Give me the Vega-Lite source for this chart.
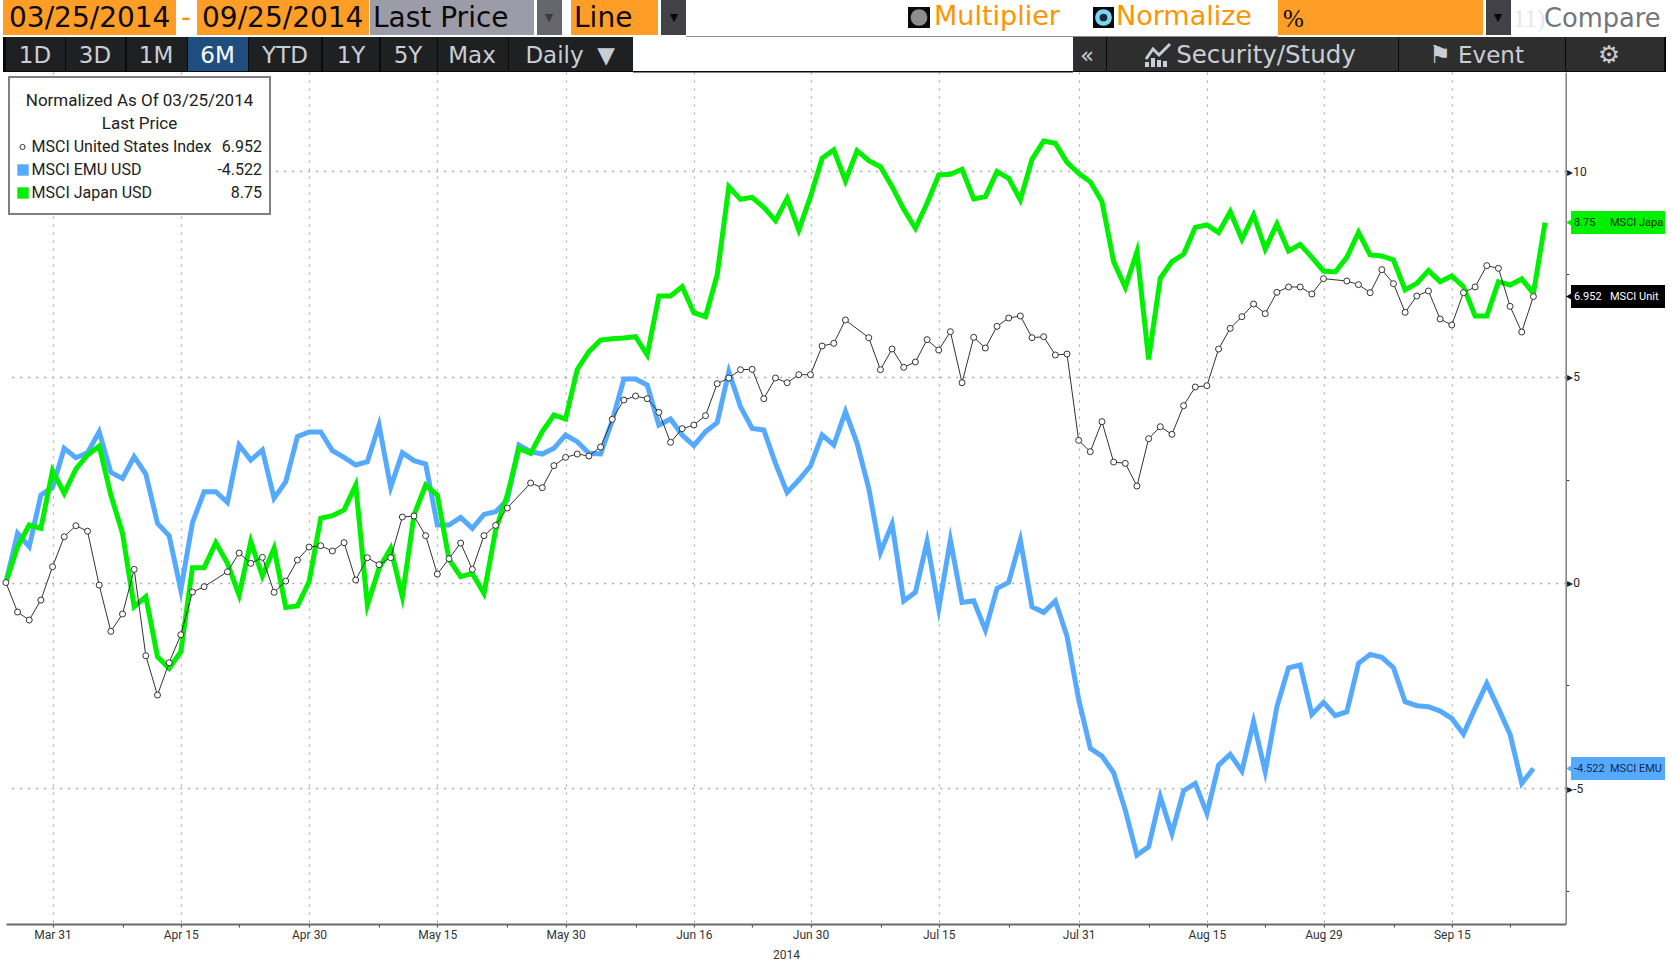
{
"$schema":"https://vega.github.io/schema/vega-lite/v6.json",
"width":1559.8,"height":852,
"autosize":{"type":"none"},
"padding":{"left":5.9,"top":72,"right":106.3,"bottom":39},
"background":"white",
"config":{"view":{"stroke":null}},
"datasets":{
"us":[{"date":"2014-03-25","pct":0},{"date":"2014-03-26","pct":-0.717},{"date":"2014-03-27","pct":-0.912},{"date":"2014-03-28","pct":-0.426},{"date":"2014-03-31","pct":0.385},{"date":"2014-04-01","pct":1.114},{"date":"2014-04-02","pct":1.382},{"date":"2014-04-03","pct":1.248},{"date":"2014-04-04","pct":-0.061},{"date":"2014-04-07","pct":-1.187},{"date":"2014-04-08","pct":-0.766},{"date":"2014-04-09","pct":0.32},{"date":"2014-04-10","pct":-1.779},{"date":"2014-04-11","pct":-2.735},{"date":"2014-04-14","pct":-1.949},{"date":"2014-04-15","pct":-1.268},{"date":"2014-04-16","pct":-0.231},{"date":"2014-04-17","pct":-0.101},{"date":"2014-04-21","pct":0.263},{"date":"2014-04-22","pct":0.717},{"date":"2014-04-23","pct":0.466},{"date":"2014-04-24","pct":0.612},{"date":"2014-04-25","pct":-0.239},{"date":"2014-04-28","pct":0.036},{"date":"2014-04-29","pct":0.547},{"date":"2014-04-30","pct":0.863},{"date":"2014-05-01","pct":0.895},{"date":"2014-05-02","pct":0.766},{"date":"2014-05-05","pct":0.969},{"date":"2014-05-06","pct":0.061},{"date":"2014-05-07","pct":0.604},{"date":"2014-05-08","pct":0.434},{"date":"2014-05-09","pct":0.604},{"date":"2014-05-12","pct":1.593},{"date":"2014-05-13","pct":1.617},{"date":"2014-05-14","pct":1.139},{"date":"2014-05-15","pct":0.207},{"date":"2014-05-16","pct":0.58},{"date":"2014-05-19","pct":0.96},{"date":"2014-05-20","pct":0.32},{"date":"2014-05-21","pct":1.139},{"date":"2014-05-22","pct":1.39},{"date":"2014-05-23","pct":1.811},{"date":"2014-05-27","pct":2.419},{"date":"2014-05-28","pct":2.306},{"date":"2014-05-29","pct":2.841},{"date":"2014-05-30","pct":3.043},{"date":"2014-06-02","pct":3.124},{"date":"2014-06-03","pct":3.075},{"date":"2014-06-04","pct":3.294},{"date":"2014-06-05","pct":3.967},{"date":"2014-06-06","pct":4.437},{"date":"2014-06-09","pct":4.534},{"date":"2014-06-10","pct":4.469},{"date":"2014-06-11","pct":4.137},{"date":"2014-06-12","pct":3.408},{"date":"2014-06-13","pct":3.74},{"date":"2014-06-16","pct":3.829},{"date":"2014-06-17","pct":4.056},{"date":"2014-06-18","pct":4.834},{"date":"2014-06-19","pct":4.971},{"date":"2014-06-20","pct":5.174},{"date":"2014-06-23","pct":5.182},{"date":"2014-06-24","pct":4.469},{"date":"2014-06-25","pct":4.971},{"date":"2014-06-26","pct":4.858},{"date":"2014-06-27","pct":5.053},{"date":"2014-06-30","pct":5.053},{"date":"2014-07-01","pct":5.749},{"date":"2014-07-02","pct":5.814},{"date":"2014-07-03","pct":6.382},{"date":"2014-07-07","pct":5.952},{"date":"2014-07-08","pct":5.174},{"date":"2014-07-09","pct":5.677},{"date":"2014-07-10","pct":5.231},{"date":"2014-07-11","pct":5.361},{"date":"2014-07-14","pct":5.904},{"date":"2014-07-15","pct":5.652},{"date":"2014-07-16","pct":6.098},{"date":"2014-07-17","pct":4.858},{"date":"2014-07-18","pct":5.96},{"date":"2014-07-21","pct":5.701},{"date":"2014-07-22","pct":6.228},{"date":"2014-07-23","pct":6.43},{"date":"2014-07-24","pct":6.479},{"date":"2014-07-25","pct":5.952},{"date":"2014-07-28","pct":5.976},{"date":"2014-07-29","pct":5.531},{"date":"2014-07-30","pct":5.555},{"date":"2014-07-31","pct":3.456},{"date":"2014-08-01","pct":3.181},{"date":"2014-08-04","pct":3.91},{"date":"2014-08-05","pct":2.929},{"date":"2014-08-06","pct":2.897},{"date":"2014-08-07","pct":2.346},{"date":"2014-08-08","pct":3.497},{"date":"2014-08-11","pct":3.788},{"date":"2014-08-12","pct":3.602},{"date":"2014-08-13","pct":4.299},{"date":"2014-08-14","pct":4.753},{"date":"2014-08-15","pct":4.785},{"date":"2014-08-18","pct":5.676},{"date":"2014-08-19","pct":6.179},{"date":"2014-08-20","pct":6.463},{"date":"2014-08-21","pct":6.771},{"date":"2014-08-22","pct":6.536},{"date":"2014-08-25","pct":7.054},{"date":"2014-08-26","pct":7.184},{"date":"2014-08-27","pct":7.184},{"date":"2014-08-28","pct":7.014},{"date":"2014-08-29","pct":7.387},{"date":"2014-09-02","pct":7.33},{"date":"2014-09-03","pct":7.241},{"date":"2014-09-04","pct":7.046},{"date":"2014-09-05","pct":7.605},{"date":"2014-09-08","pct":7.265},{"date":"2014-09-09","pct":6.568},{"date":"2014-09-10","pct":6.965},{"date":"2014-09-11","pct":7.087},{"date":"2014-09-12","pct":6.406},{"date":"2014-09-15","pct":6.26},{"date":"2014-09-16","pct":7.046},{"date":"2014-09-17","pct":7.184},{"date":"2014-09-18","pct":7.703},{"date":"2014-09-19","pct":7.638},{"date":"2014-09-22","pct":6.714},{"date":"2014-09-23","pct":6.09},{"date":"2014-09-24","pct":6.952}],
"emu":[{"date":"2014-03-25","pct":0},{"date":"2014-03-26","pct":1.195},{"date":"2014-03-27","pct":0.871},{"date":"2014-03-28","pct":2.127},{"date":"2014-03-31","pct":2.314},{"date":"2014-04-01","pct":3.262},{"date":"2014-04-02","pct":3.035},{"date":"2014-04-03","pct":3.156},{"date":"2014-04-04","pct":3.667},{"date":"2014-04-07","pct":2.678},{"date":"2014-04-08","pct":2.532},{"date":"2014-04-09","pct":3.059},{"date":"2014-04-10","pct":2.638},{"date":"2014-04-11","pct":1.438},{"date":"2014-04-14","pct":1.139},{"date":"2014-04-15","pct":-0.182},{"date":"2014-04-16","pct":1.455},{"date":"2014-04-17","pct":2.208},{"date":"2014-04-18","pct":2.208},{"date":"2014-04-21","pct":1.949},{"date":"2014-04-22","pct":3.343},{"date":"2014-04-23","pct":2.978},{"date":"2014-04-24","pct":3.221},{"date":"2014-04-25","pct":2.046},{"date":"2014-04-28","pct":2.451},{"date":"2014-04-29","pct":3.545},{"date":"2014-04-30","pct":3.659},{"date":"2014-05-01","pct":3.659},{"date":"2014-05-02","pct":3.205},{"date":"2014-05-05","pct":3.043},{"date":"2014-05-06","pct":2.857},{"date":"2014-05-07","pct":2.938},{"date":"2014-05-08","pct":3.829},{"date":"2014-05-09","pct":2.314},{"date":"2014-05-12","pct":3.156},{"date":"2014-05-13","pct":2.962},{"date":"2014-05-14","pct":2.881},{"date":"2014-05-15","pct":1.398},{"date":"2014-05-16","pct":1.398},{"date":"2014-05-19","pct":1.584},{"date":"2014-05-20","pct":1.317},{"date":"2014-05-21","pct":1.657},{"date":"2014-05-22","pct":1.722},{"date":"2014-05-23","pct":2.006},{"date":"2014-05-26","pct":3.343},{"date":"2014-05-27","pct":3.181},{"date":"2014-05-28","pct":3.124},{"date":"2014-05-29","pct":3.262},{"date":"2014-05-30","pct":3.586},{"date":"2014-06-02","pct":3.424},{"date":"2014-06-03","pct":3.14},{"date":"2014-06-04","pct":3.124},{"date":"2014-06-05","pct":3.934},{"date":"2014-06-06","pct":4.947},{"date":"2014-06-09","pct":4.947},{"date":"2014-06-10","pct":4.801},{"date":"2014-06-11","pct":3.829},{"date":"2014-06-12","pct":3.975},{"date":"2014-06-13","pct":3.586},{"date":"2014-06-16","pct":3.327},{"date":"2014-06-17","pct":3.667},{"date":"2014-06-18","pct":3.886},{"date":"2014-06-19","pct":5.126},{"date":"2014-06-20","pct":4.275},{"date":"2014-06-23","pct":3.748},{"date":"2014-06-24","pct":3.707},{"date":"2014-06-25","pct":2.897},{"date":"2014-06-26","pct":2.192},{"date":"2014-06-27","pct":2.492},{"date":"2014-06-30","pct":2.832},{"date":"2014-07-01","pct":3.586},{"date":"2014-07-02","pct":3.343},{"date":"2014-07-03","pct":4.153},{"date":"2014-07-04","pct":3.383},{"date":"2014-07-07","pct":2.289},{"date":"2014-07-08","pct":0.733},{"date":"2014-07-09","pct":1.422},{"date":"2014-07-10","pct":-0.45},{"date":"2014-07-11","pct":-0.239},{"date":"2014-07-14","pct":0.993},{"date":"2014-07-15","pct":-0.628},{"date":"2014-07-16","pct":1.033},{"date":"2014-07-17","pct":-0.482},{"date":"2014-07-18","pct":-0.442},{"date":"2014-07-21","pct":-1.155},{"date":"2014-07-22","pct":-0.142},{"date":"2014-07-23","pct":0.004},{"date":"2014-07-24","pct":1.033},{"date":"2014-07-25","pct":-0.588},{"date":"2014-07-28","pct":-0.725},{"date":"2014-07-29","pct":-0.45},{"date":"2014-07-30","pct":-1.3},{"date":"2014-07-31","pct":-2.84},{"date":"2014-08-01","pct":-4.032},{"date":"2014-08-04","pct":-4.218},{"date":"2014-08-05","pct":-4.623},{"date":"2014-08-06","pct":-5.531},{"date":"2014-08-07","pct":-6.625},{"date":"2014-08-08","pct":-6.422},{"date":"2014-08-11","pct":-5.207},{"date":"2014-08-12","pct":-6.098},{"date":"2014-08-13","pct":-5.061},{"date":"2014-08-14","pct":-4.882},{"date":"2014-08-15","pct":-5.612},{"date":"2014-08-18","pct":-4.437},{"date":"2014-08-19","pct":-4.177},{"date":"2014-08-20","pct":-4.583},{"date":"2014-08-21","pct":-3.383},{"date":"2014-08-22","pct":-4.599},{"date":"2014-08-25","pct":-3.019},{"date":"2014-08-26","pct":-2.071},{"date":"2014-08-27","pct":-2.006},{"date":"2014-08-28","pct":-3.205},{"date":"2014-08-29","pct":-2.913},{"date":"2014-09-01","pct":-3.237},{"date":"2014-09-02","pct":-3.14},{"date":"2014-09-03","pct":-1.965},{"date":"2014-09-04","pct":-1.746},{"date":"2014-09-05","pct":-1.819},{"date":"2014-09-08","pct":-2.071},{"date":"2014-09-09","pct":-2.897},{"date":"2014-09-10","pct":-2.994},{"date":"2014-09-11","pct":-3.019},{"date":"2014-09-12","pct":-3.124},{"date":"2014-09-15","pct":-3.302},{"date":"2014-09-16","pct":-3.683},{"date":"2014-09-17","pct":-3.059},{"date":"2014-09-18","pct":-2.451},{"date":"2014-09-19","pct":-3.059},{"date":"2014-09-22","pct":-3.691},{"date":"2014-09-23","pct":-4.882},{"date":"2014-09-24","pct":-4.522}],
"japan":[{"date":"2014-03-25","pct":0},{"date":"2014-03-26","pct":0.871},{"date":"2014-03-27","pct":1.398},{"date":"2014-03-28","pct":1.317},{"date":"2014-03-31","pct":2.719},{"date":"2014-04-01","pct":2.168},{"date":"2014-04-02","pct":2.759},{"date":"2014-04-03","pct":3.1},{"date":"2014-04-04","pct":3.319},{"date":"2014-04-07","pct":2.127},{"date":"2014-04-08","pct":1.195},{"date":"2014-04-09","pct":-0.588},{"date":"2014-04-10","pct":-0.344},{"date":"2014-04-11","pct":-1.803},{"date":"2014-04-14","pct":-2.087},{"date":"2014-04-15","pct":-1.682},{"date":"2014-04-16","pct":0.361},{"date":"2014-04-17","pct":0.361},{"date":"2014-04-18","pct":0.968},{"date":"2014-04-21","pct":0.466},{"date":"2014-04-22","pct":-0.304},{"date":"2014-04-23","pct":0.993},{"date":"2014-04-24","pct":0.158},{"date":"2014-04-25","pct":0.831},{"date":"2014-04-28","pct":-0.604},{"date":"2014-04-29","pct":-0.571},{"date":"2014-04-30","pct":0.02},{"date":"2014-05-01","pct":1.56},{"date":"2014-05-02","pct":1.625},{"date":"2014-05-05","pct":1.763},{"date":"2014-05-06","pct":2.37},{"date":"2014-05-07","pct":-0.547},{"date":"2014-05-08","pct":0.344},{"date":"2014-05-09","pct":0.831},{"date":"2014-05-12","pct":-0.344},{"date":"2014-05-13","pct":1.641},{"date":"2014-05-14","pct":2.37},{"date":"2014-05-15","pct":2.127},{"date":"2014-05-16","pct":0.563},{"date":"2014-05-19","pct":0.142},{"date":"2014-05-20","pct":0.223},{"date":"2014-05-21","pct":-0.263},{"date":"2014-05-22","pct":1.276},{"date":"2014-05-23","pct":2.127},{"date":"2014-05-26","pct":3.262},{"date":"2014-05-27","pct":3.14},{"date":"2014-05-28","pct":3.667},{"date":"2014-05-29","pct":4.072},{"date":"2014-05-30","pct":3.975},{"date":"2014-06-02","pct":5.18},{"date":"2014-06-03","pct":5.612},{"date":"2014-06-04","pct":5.895},{"date":"2014-06-05","pct":5.928},{"date":"2014-06-06","pct":5.944},{"date":"2014-06-09","pct":5.976},{"date":"2014-06-10","pct":5.531},{"date":"2014-06-11","pct":6.965},{"date":"2014-06-12","pct":6.965},{"date":"2014-06-13","pct":7.192},{"date":"2014-06-16","pct":6.56},{"date":"2014-06-17","pct":6.463},{"date":"2014-06-18","pct":7.476},{"date":"2014-06-19","pct":9.623},{"date":"2014-06-20","pct":9.315},{"date":"2014-06-23","pct":9.364},{"date":"2014-06-24","pct":9.121},{"date":"2014-06-25","pct":8.797},{"date":"2014-06-26","pct":9.34},{"date":"2014-06-27","pct":8.57},{"date":"2014-06-30","pct":9.38},{"date":"2014-07-01","pct":10.312},{"date":"2014-07-02","pct":10.515},{"date":"2014-07-03","pct":9.761},{"date":"2014-07-04","pct":10.498},{"date":"2014-07-07","pct":10.255},{"date":"2014-07-08","pct":10.109},{"date":"2014-07-09","pct":9.623},{"date":"2014-07-10","pct":9.072},{"date":"2014-07-11","pct":8.61},{"date":"2014-07-14","pct":9.218},{"date":"2014-07-15","pct":9.907},{"date":"2014-07-16","pct":9.923},{"date":"2014-07-17","pct":10.045},{"date":"2014-07-18","pct":9.323},{"date":"2014-07-21","pct":9.38},{"date":"2014-07-22","pct":9.988},{"date":"2014-07-23","pct":9.826},{"date":"2014-07-24","pct":9.299},{"date":"2014-07-25","pct":10.288},{"date":"2014-07-28","pct":10.733},{"date":"2014-07-29","pct":10.677},{"date":"2014-07-30","pct":10.215},{"date":"2014-07-31","pct":9.948},{"date":"2014-08-01","pct":9.74},{"date":"2014-08-04","pct":9.26},{"date":"2014-08-05","pct":7.8},{"date":"2014-08-06","pct":7.176},{"date":"2014-08-07","pct":8.043},{"date":"2014-08-08","pct":5.425},{"date":"2014-08-11","pct":7.395},{"date":"2014-08-12","pct":7.8},{"date":"2014-08-13","pct":7.978},{"date":"2014-08-14","pct":8.634},{"date":"2014-08-15","pct":8.691},{"date":"2014-08-18","pct":8.505},{"date":"2014-08-19","pct":9.015},{"date":"2014-08-20","pct":8.343},{"date":"2014-08-21","pct":8.934},{"date":"2014-08-22","pct":8.107},{"date":"2014-08-25","pct":8.715},{"date":"2014-08-26","pct":8.059},{"date":"2014-08-27","pct":8.221},{"date":"2014-08-28","pct":7.905},{"date":"2014-08-29","pct":7.573},{"date":"2014-09-01","pct":7.549},{"date":"2014-09-02","pct":7.905},{"date":"2014-09-03","pct":8.513},{"date":"2014-09-04","pct":7.962},{"date":"2014-09-05","pct":7.938},{"date":"2014-09-08","pct":7.84},{"date":"2014-09-09","pct":7.111},{"date":"2014-09-10","pct":7.273},{"date":"2014-09-11","pct":7.581},{"date":"2014-09-12","pct":7.313},{"date":"2014-09-15","pct":7.451},{"date":"2014-09-16","pct":7.192},{"date":"2014-09-17","pct":6.479},{"date":"2014-09-18","pct":6.479},{"date":"2014-09-19","pct":7.313},{"date":"2014-09-22","pct":7.232},{"date":"2014-09-23","pct":7.378},{"date":"2014-09-24","pct":7.03},{"date":"2014-09-25","pct":8.75}],
"latest":[{"series":"MSCI United States Index","tag":"MSCI Unit","last":6.952,"shown":"6.952"},{"series":"MSCI EMU USD","tag":"MSCI EMU","last":-4.522,"shown":"-4.522"},{"series":"MSCI Japan USD","tag":"MSCI Japa","last":8.75,"shown":"8.75\u00a0\u00a0"}],
"panels":[
{"from":3,"to":176,"top":0,"bottom":35,"kind":"input"},{"from":197,"to":369,"top":0,"bottom":35,"kind":"input"},{"from":370,"to":534,"top":0,"bottom":35,"kind":"field"},{"from":537,"to":562,"top":0,"bottom":35,"kind":"dim"},{"from":571,"to":658,"top":0,"bottom":35,"kind":"input"},{"from":661,"to":686,"top":0,"bottom":35,"kind":"dark"},{"from":1278,"to":1483,"top":0,"bottom":35,"kind":"input"},{"from":1486,"to":1511,"top":0,"bottom":35,"kind":"dark"},
{"from":686,"to":1278,"top":36,"bottom":37,"kind":"line"},{"from":633,"to":1073,"top":71,"bottom":72.5,"kind":"ink"},
{"from":3,"to":633,"top":37,"bottom":72,"kind":"ink"},{"from":6,"to":65,"top":37,"bottom":71,"kind":"tab"},{"from":66,"to":125,"top":37,"bottom":71,"kind":"tab"},{"from":127,"to":187,"top":37,"bottom":71,"kind":"tab"},{"from":188,"to":248,"top":37,"bottom":71,"kind":"active"},{"from":249,"to":321,"top":37,"bottom":71,"kind":"tab"},{"from":323,"to":379,"top":37,"bottom":71,"kind":"tab"},{"from":381,"to":437,"top":37,"bottom":71,"kind":"tab"},{"from":438,"to":508,"top":37,"bottom":71,"kind":"tab"},{"from":509,"to":633,"top":37,"bottom":71,"kind":"tab"},
{"from":1073,"to":1666,"top":37,"bottom":72,"kind":"ink"},{"from":1073,"to":1106,"top":37,"bottom":71,"kind":"panel"},{"from":1107,"to":1398,"top":37,"bottom":71,"kind":"panel"},{"from":1399,"to":1565,"top":37,"bottom":71,"kind":"panel"},{"from":1566,"to":1664,"top":37,"bottom":71,"kind":"panel"},
{"from":908,"to":930,"top":7,"bottom":28,"kind":"ink"},{"from":1093,"to":1114,"top":7,"bottom":28,"kind":"ink"},
{"from":1145,"to":1149,"top":62,"bottom":67,"kind":"glyph"},{"from":1151,"to":1155,"top":58,"bottom":67,"kind":"glyph"},{"from":1157,"to":1161,"top":60,"bottom":67,"kind":"glyph"},{"from":1163,"to":1167,"top":61,"bottom":67,"kind":"glyph"},
{"from":8,"to":271,"top":76,"bottom":215,"kind":"frame"},{"from":10,"to":269,"top":78,"bottom":213,"kind":"paper"}],
"knobs":[{"across":919,"down":17.5,"kind":"knobGray"},{"across":1103.5,"down":17.5,"kind":"knobCyan"}],
"topText":[{"label":"03/25/2014","at":9,"kind":"ink"},{"label":"-","at":181,"kind":"orange"},{"label":"09/25/2014","at":202,"kind":"ink"},{"label":"Last Price","at":373,"kind":"ink"},{"label":"Line","at":574,"kind":"ink"}],
"orangeText":[{"label":"Multiplier","at":934,"kind":"orange"},{"label":"Normalize","at":1116,"kind":"orange"}],
"compareText":[{"label":"Compare","at":1544,"kind":"soft"}],
"serifText":[{"label":"%","at":1283,"kind":"ink"},{"label":"11)","at":1513,"kind":"faint"}],
"carets":[{"label":"▼","at":549,"kind":"dimGlyph"},{"label":"▼","at":674,"kind":"ink"},{"label":"▼","at":1498,"kind":"ink"}],
"tabText":[{"label":"1D","at":35,"kind":"glyph"},{"label":"3D","at":95,"kind":"glyph"},{"label":"1M","at":156,"kind":"glyph"},{"label":"6M","at":217.5,"kind":"paper"},{"label":"YTD","at":285,"kind":"glyph"},{"label":"1Y","at":351,"kind":"glyph"},{"label":"5Y","at":408,"kind":"glyph"},{"label":"Max","at":472,"kind":"glyph"},{"label":"Daily","at":554.5,"kind":"glyph"},{"label":"▼","at":606,"kind":"glyph"},{"label":"«","at":1087,"kind":"glyph"},{"label":"Event","at":1491,"kind":"glyph"}],
"studyText":[{"label":"Security/Study","at":1266,"kind":"glyph"},{"label":"⚑","at":1440,"kind":"glyph"},{"label":"⚙","at":1609,"kind":"glyph"}],
"heading":[{"label":"Normalized As Of 03/25/2014","down":101},{"label":"Last Price","down":124}],
"iconTrace":[{"across":1146,"down":59},{"across":1153,"down":49},{"across":1159,"down":55},{"across":1170,"down":44}]
},
"layer":[
{"encoding":{
"x":{"field":"date","type":"ordinal","title":"2014","scale":{"type":"point","padding":0.885,"align":0},
"axis":{"orient":"bottom","values":["2014-03-31","2014-04-08","2014-04-15","2014-04-22","2014-04-30","2014-05-08","2014-05-15","2014-05-23","2014-05-30","2014-06-09","2014-06-16","2014-06-23","2014-06-30","2014-07-08","2014-07-15","2014-07-23","2014-07-31","2014-08-08","2014-08-15","2014-08-22","2014-08-29","2014-09-08","2014-09-15","2014-09-22"],
"labelExpr":"{'2014-03-31':'Mar 31','2014-04-15':'Apr 15','2014-04-30':'Apr 30','2014-05-15':'May 15','2014-05-30':'May 30','2014-06-16':'Jun 16','2014-06-30':'Jun 30','2014-07-15':'Jul 15','2014-07-31':'Jul 31','2014-08-15':'Aug 15','2014-08-29':'Aug 29','2014-09-15':'Sep 15'}[datum.value]||''",
"grid":true,"gridColor":"#9a9a9a","gridDash":[2,6],"gridWidth":1,
"gridOpacity":{"condition":{"test":"indexof(['2014-03-31','2014-04-15','2014-04-30','2014-05-15','2014-05-30','2014-06-16','2014-06-30','2014-07-15','2014-07-31','2014-08-15','2014-08-29','2014-09-15'],datum.value)>=0","value":1},"value":0},
"domainColor":"#6a6a6a","domainWidth":2,"tickColor":"#333","tickSize":3,"labelAngle":0,"labelOverlap":false,"labelFont":"Roboto","labelFontSize":12,"labelColor":"#333","labelPadding":2,
"titleFont":"Roboto","titleFontSize":12,"titleFontWeight":"normal","titleColor":"#333","titleX":780,"titleY":30,"titleBaseline":"middle"}},
"y":{"field":"pct","type":"quantitative","title":null,"scale":{"domain":[-8.3,12.41],"nice":false,"zero":false},
"axis":{"orient":"right","values":[-7.5,-5,-2.5,0,2.5,5,7.5,10],
"labelExpr":"datum.value%5==0?'▸'+datum.value:''",
"grid":true,"gridColor":"#aaaaaa","gridDash":[2,6],"gridWidth":1.5,
"gridOpacity":{"condition":{"test":"datum.value%5==0","value":1},"value":0},
"domainColor":"#808080","domainWidth":1.5,"tickColor":"#333","tickSize":3,"labelFont":"Roboto","labelFontSize":12,"labelColor":"#222","labelPadding":-2}}},
"layer":[
{"data":{"name":"emu"},"mark":{"type":"line","stroke":"#55AAFF","strokeWidth":5,"strokeJoin":"miter","strokeMiterLimit":6}},
{"data":{"name":"japan"},"mark":{"type":"line","stroke":"#00F000","strokeWidth":5,"strokeJoin":"miter","strokeMiterLimit":6}},
{"data":{"name":"us"},"mark":{"type":"line","stroke":"#333333","strokeWidth":1}},
{"data":{"name":"us"},"mark":{"type":"point","shape":"circle","filled":true,"fill":"white","stroke":"#333333","strokeWidth":1,"size":36,"opacity":1}}
]},
{"data":{"name":"latest"},
"encoding":{"y":{"field":"last","type":"quantitative","scale":{"domain":[-8.3,12.41],"range":[852,0],"nice":false,"zero":false},"axis":null}},
"layer":[
{"mark":{"type":"rule","strokeWidth":23},"encoding":{"x":{"datum":1571,"type":"quantitative","scale":{"domain":[0,1672],"range":[-5.9,1666.1]},"axis":null},"x2":{"datum":1665},"color":{"field":"series","type":"nominal","scale":{"domain":["MSCI United States Index","MSCI EMU USD","MSCI Japan USD"],"range":["#000000","#55AAFF","#00F000"]},"legend":null}}},
{"mark":{"type":"point","shape":"triangle-left","filled":true,"size":260,"opacity":1},"encoding":{"x":{"datum":1573,"type":"quantitative","scale":{"domain":[0,1672],"range":[-5.9,1666.1]},"axis":null},"color":{"field":"series","type":"nominal","scale":{"domain":["MSCI United States Index","MSCI EMU USD","MSCI Japan USD"],"range":["#000000","#55AAFF","#00F000"]},"legend":null}}},
{"mark":{"type":"text","align":"left","baseline":"middle","font":"Roboto","fontSize":11},"encoding":{"x":{"datum":1574,"type":"quantitative","scale":{"domain":[0,1672],"range":[-5.9,1666.1]},"axis":null},"text":{"field":"last","type":"nominal"},"color":{"field":"series","type":"nominal","scale":{"domain":["MSCI United States Index","MSCI EMU USD","MSCI Japan USD"],"range":["#ffffff","#0a2a55","#053005"]},"legend":null}}},
{"mark":{"type":"text","align":"left","baseline":"middle","font":"Roboto","fontSize":11},"encoding":{"x":{"datum":1610,"type":"quantitative","scale":{"domain":[0,1672],"range":[-5.9,1666.1]},"axis":null},"text":{"field":"tag","type":"nominal"},"color":{"field":"series","type":"nominal","scale":{"domain":["MSCI United States Index","MSCI EMU USD","MSCI Japan USD"],"range":["#ffffff","#0a2a55","#053005"]},"legend":null}}}
],
"resolve":{"scale":{"color":"independent"}}},
{"encoding":{
"x":{"field":"at","type":"quantitative","scale":{"domain":[0,1672],"range":[-5.9,1666.1]},"axis":null},
"color":{"field":"kind","type":"nominal","legend":null,"scale":{"domain":["input","field","dim","dark","line","ink","tab","active","panel","glyph","frame","paper","orange","soft","faint","dimGlyph","knobGray","knobCyan"],"range":["#FF9E27","#9C9CA8","#66666E","#414147","#8A8A8A","#0A0A0A","#1F2022","#1F4E7E","#2E2E2E","#C9CED6","#808080","#FFFFFF","#FF9400","#71767C","#E4E7EC","#3A3A40","#8E8E8E","#7AD5F5"]}}},
"layer":[
{"data":{"name":"panels"},"mark":"rect","encoding":{"x":{"field":"from","type":"quantitative","scale":{"domain":[0,1672],"range":[-5.9,1666.1]},"axis":null},"x2":{"field":"to"},"y":{"field":"top","type":"quantitative","scale":{"domain":[0,963],"range":[-72,891]},"axis":null},"y2":{"field":"bottom"}}},
{"data":{"name":"knobs"},"mark":{"type":"point","shape":"circle","filled":true,"size":280,"opacity":1},"encoding":{"x":{"field":"across","type":"quantitative","scale":{"domain":[0,1672],"range":[-5.9,1666.1]},"axis":null},"y":{"field":"down","type":"quantitative","scale":{"domain":[0,963],"range":[-72,891]},"axis":null}}},
{"data":{"name":"knobs"},"transform":[{"filter":"datum.kind=='knobCyan'"}],"mark":{"type":"point","shape":"circle","filled":true,"size":60,"opacity":1,"fill":"#1C2A38"},"encoding":{"x":{"field":"across","type":"quantitative","scale":{"domain":[0,1672],"range":[-5.9,1666.1]},"axis":null},"y":{"field":"down","type":"quantitative","scale":{"domain":[0,963],"range":[-72,891]},"axis":null},"color":{"value":"#1C2A38"}}},
{"data":{"name":"iconTrace"},"mark":{"type":"line","stroke":"#C9CED6","strokeWidth":3},"encoding":{"x":{"field":"across","type":"quantitative","scale":{"domain":[0,1672],"range":[-5.9,1666.1]},"axis":null},"y":{"field":"down","type":"quantitative","scale":{"domain":[0,963],"range":[-72,891]},"axis":null},"color":{"value":"#C9CED6"}}},
{"data":{"name":"topText"},"mark":{"type":"text","align":"left","baseline":"middle","font":"DejaVu Sans","fontSize":28,"y":-53},"encoding":{"text":{"field":"label"}}},
{"data":{"name":"orangeText"},"mark":{"type":"text","align":"left","baseline":"middle","font":"DejaVu Sans","fontSize":27,"y":-55},"encoding":{"text":{"field":"label"}}},
{"data":{"name":"compareText"},"mark":{"type":"text","align":"left","baseline":"middle","font":"DejaVu Sans","fontSize":25.7,"y":-53},"encoding":{"text":{"field":"label"}}},
{"data":{"name":"serifText"},"mark":{"type":"text","align":"left","baseline":"middle","font":"Liberation Serif","fontSize":25,"y":-53},"encoding":{"text":{"field":"label"}}},
{"data":{"name":"carets"},"mark":{"type":"text","align":"center","baseline":"middle","font":"DejaVu Sans","fontSize":11,"y":-54},"encoding":{"text":{"field":"label"}}},
{"data":{"name":"tabText"},"mark":{"type":"text","align":"center","baseline":"middle","font":"DejaVu Sans","fontSize":23,"y":-16},"encoding":{"text":{"field":"label"}}},
{"data":{"name":"studyText"},"mark":{"type":"text","align":"center","baseline":"middle","font":"DejaVu Sans","fontSize":24.5,"y":-16},"encoding":{"text":{"field":"label"}}}
]},
{"data":{"name":"heading"},"mark":{"type":"text","align":"center","baseline":"middle","font":"Roboto","fontSize":17,"color":"#222"},"encoding":{"x":{"datum":139.5,"type":"quantitative","scale":{"domain":[0,1672],"range":[-5.9,1666.1]},"axis":null},"y":{"field":"down","type":"quantitative","scale":{"domain":[0,963],"range":[-72,891]},"axis":null},"text":{"field":"label"}}},
{"data":{"name":"latest"},
"encoding":{"y":{"field":"series","type":"nominal","sort":null,"scale":{"type":"point","domain":["MSCI United States Index","MSCI EMU USD","MSCI Japan USD"],"range":[75,121],"padding":0},"axis":null}},
"layer":[
{"transform":[{"filter":"datum.last==6.952"}],"mark":{"type":"point","shape":"circle","filled":true,"fill":"white","stroke":"#333","strokeWidth":1,"size":26,"opacity":1},"encoding":{"x":{"datum":22.5,"type":"quantitative","scale":{"domain":[0,1672],"range":[-5.9,1666.1]},"axis":null}}},
{"transform":[{"filter":"datum.last!=6.952"}],"mark":{"type":"point","shape":"square","filled":true,"size":130,"opacity":1},"encoding":{"x":{"datum":23,"type":"quantitative","scale":{"domain":[0,1672],"range":[-5.9,1666.1]},"axis":null},"color":{"field":"series","type":"nominal","scale":{"domain":["MSCI EMU USD","MSCI Japan USD"],"range":["#55AAFF","#00F000"]},"legend":null}}},
{"mark":{"type":"text","align":"left","baseline":"middle","font":"Roboto","fontSize":16,"color":"#222"},"encoding":{"x":{"datum":31.5,"type":"quantitative","scale":{"domain":[0,1672],"range":[-5.9,1666.1]},"axis":null},"text":{"field":"series"}}},
{"mark":{"type":"text","align":"right","baseline":"middle","font":"Roboto","fontSize":16,"color":"#222"},"encoding":{"x":{"datum":262,"type":"quantitative","scale":{"domain":[0,1672],"range":[-5.9,1666.1]},"axis":null},"text":{"field":"shown"}}}
],
"resolve":{"scale":{"x":"independent"}}}
],
"resolve":{"scale":{"x":"independent","y":"independent","color":"independent"},"axis":{"x":"independent","y":"independent"}}
}
